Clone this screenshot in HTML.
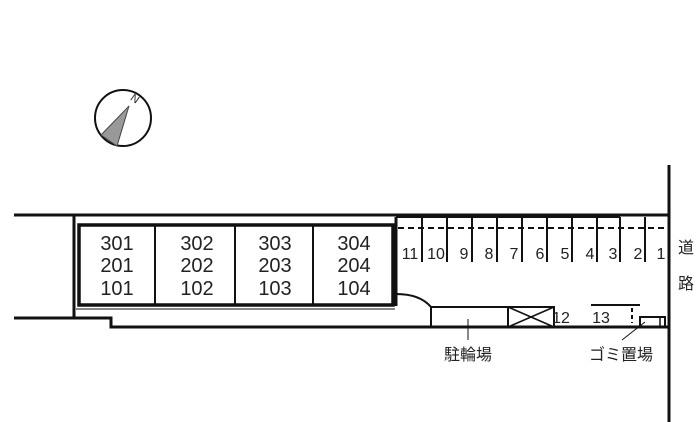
<!DOCTYPE html>
<html><head><meta charset="utf-8"><style>
body{margin:0;background:#fff}
svg{display:block}
text{font-family:"Liberation Sans","Noto Sans CJK JP",sans-serif;fill:#222}
</style></head><body>
<svg width="700" height="422" viewBox="0 0 700 422" xmlns="http://www.w3.org/2000/svg">
<g stroke="#111" fill="none">
<circle cx="123" cy="118" r="28" stroke-width="2"/>
<polygon points="129,106 101,135 117,146" fill="#999" stroke="#444" stroke-width="1"/>
<line x1="14" y1="215" x2="668" y2="215" stroke-width="3"/>
<line x1="74" y1="215" x2="74" y2="318" stroke-width="3"/>
<polyline points="14,318 111,318 111,327 668,327" stroke-width="3"/>
<line x1="669" y1="165" x2="669" y2="422" stroke-width="3"/>
<rect x="79" y="225" width="314" height="80" stroke-width="3.5"/>
<line x1="155" y1="225" x2="155" y2="305" stroke-width="2"/>
<line x1="235" y1="225" x2="235" y2="305" stroke-width="2"/>
<line x1="313" y1="225" x2="313" y2="305" stroke-width="2"/>
<line x1="76" y1="309" x2="395" y2="309" stroke-width="1"/>
<line x1="396" y1="217" x2="396" y2="306" stroke-width="3"/>
<line x1="396" y1="217" x2="620" y2="217" stroke-width="2"/>
<line x1="398" y1="228" x2="665" y2="228" stroke-width="2" stroke-dasharray="6,4"/>
<g stroke-width="2">
<line x1="422" y1="217" x2="422" y2="262"/><line x1="447" y1="217" x2="447" y2="262"/>
<line x1="472" y1="217" x2="472" y2="262"/><line x1="497" y1="217" x2="497" y2="262"/>
<line x1="522" y1="217" x2="522" y2="262"/><line x1="547" y1="217" x2="547" y2="262"/>
<line x1="572" y1="217" x2="572" y2="262"/><line x1="597" y1="217" x2="597" y2="262"/>
<line x1="620" y1="217" x2="620" y2="262"/><line x1="645" y1="217" x2="645" y2="262"/>
</g>
<path d="M396,294 Q420,294 431,307" stroke-width="2"/>
<polyline points="431,327 431,307 508,307" stroke-width="2"/>
<rect x="508" y="307" width="46" height="20" stroke-width="2"/>
<line x1="508" y1="307" x2="554" y2="327" stroke-width="1.5"/>
<line x1="508" y1="327" x2="554" y2="307" stroke-width="1.5"/>
<line x1="591" y1="305" x2="640" y2="305" stroke-width="2"/>
<line x1="632" y1="308" x2="632" y2="323" stroke-width="2" stroke-dasharray="4,3"/>
<rect x="640" y="317" width="25" height="10" stroke-width="2"/>
<line x1="660" y1="317" x2="660" y2="327" stroke-width="1.5"/>
<line x1="468" y1="319" x2="468" y2="340" stroke-width="1"/>
<line x1="645" y1="322" x2="622" y2="340" stroke-width="1"/>
</g>
<g font-size="20" text-anchor="middle">
<text x="117" y="250">301</text><text x="117" y="272">201</text><text x="117" y="295">101</text>
<text x="197" y="250">302</text><text x="197" y="272">202</text><text x="197" y="295">102</text>
<text x="275" y="250">303</text><text x="275" y="272">203</text><text x="275" y="295">103</text>
<text x="354" y="250">304</text><text x="354" y="272">204</text><text x="354" y="295">104</text>
</g>
<g font-size="16" text-anchor="middle">
<text x="410" y="259">11</text><text x="436" y="259">10</text><text x="464" y="259">9</text>
<text x="489" y="259">8</text><text x="514" y="259">7</text><text x="540" y="259">6</text>
<text x="565" y="259">5</text><text x="590" y="259">4</text><text x="613" y="259">3</text>
<text x="638" y="259">2</text><text x="661" y="259">1</text>
<text x="561" y="323">12</text><text x="601" y="323">13</text>
</g>
<g font-size="16" text-anchor="middle">
<text x="468" y="360">駐輪場</text>
<text x="621" y="360">ゴミ置場</text>
<text x="686" y="253">道</text>
<text x="686" y="289">路</text>
</g>
<text x="134" y="102" font-size="11" transform="rotate(35 134 100)" text-anchor="middle">N</text>
</svg>
</body></html>
